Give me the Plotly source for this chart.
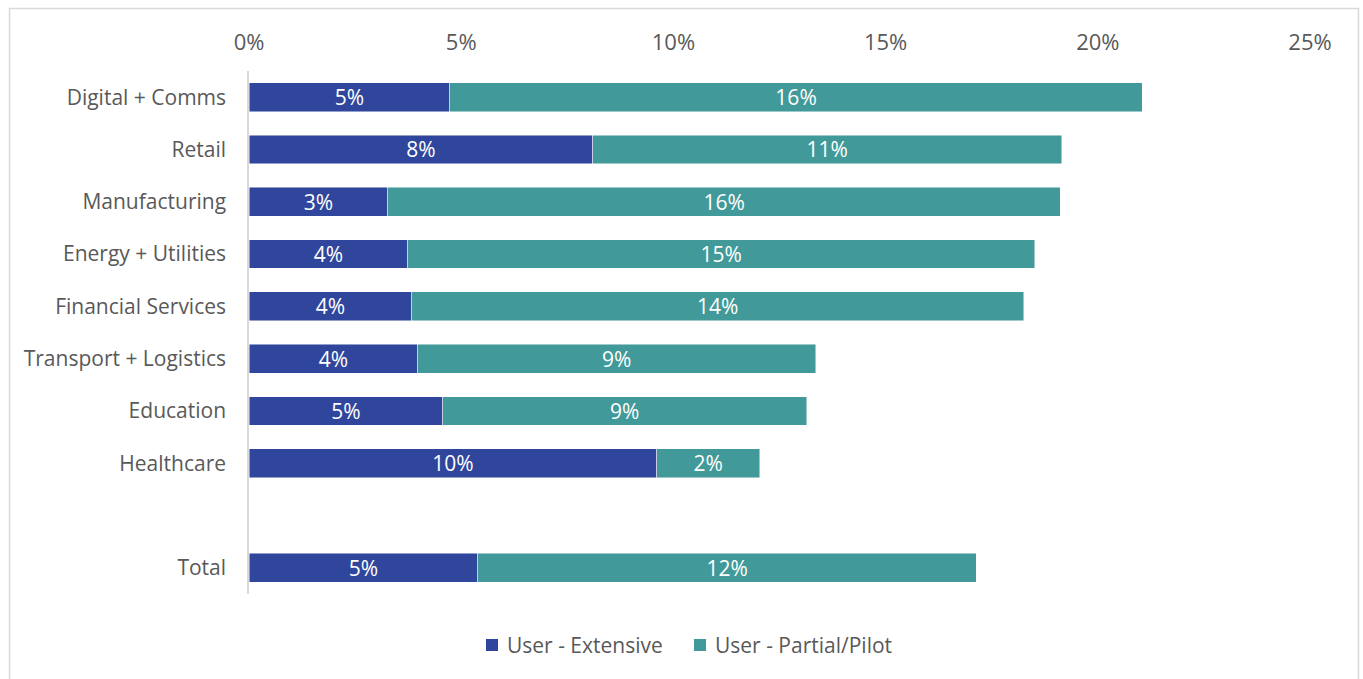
import plotly.graph_objects as go

# Adoption share by sector (fractions of respondents)
sectors = ["Digital + Comms", "Retail", "Manufacturing", "Energy + Utilities",
           "Financial Services", "Transport + Logistics", "Education", "Healthcare", "Total"]
extensive = [0.0473, 0.0810, 0.0327, 0.0374, 0.0384, 0.0398, 0.0457, 0.0961, 0.0539]
partial = [0.1632, 0.1105, 0.1585, 0.1477, 0.1441, 0.0937, 0.0857, 0.0242, 0.1175]
# Row positions: a blank slot separates the sectors from the total
rows = [0, 1, 2, 3, 4, 5, 6, 7, 9]

x_ticks = [0, 0.05, 0.10, 0.15, 0.20, 0.25]
series_names = ["User - Extensive", "User - Partial/Pilot"]

BLUE = "#30469C"
TEAL = "#419A99"
GREY = "#595959"
FONT = "Open Sans"

fig = go.Figure()
for name, vals, color in zip(series_names, [extensive, partial], [BLUE, TEAL]):
    fig.add_trace(go.Bar(
        name=name, x=vals, y=rows, orientation="h", width=0.55,
        marker=dict(color=color, line=dict(color="rgba(255,255,255,0.6)", width=0.8)),
        text=[f"{v:.0%}" for v in vals], textposition="inside",
        insidetextanchor="middle", constraintext="none",
        textfont=dict(color="white", size=21, family=FONT),
        hoverinfo="skip", showlegend=False,
    ))

# Legend drawn as coloured squares with labels beneath the plot
shapes = [dict(type="rect", xref="paper", yref="paper",
               x0=-0.2257, x1=1.0457, y0=-0.2, y1=1.1195,
               line=dict(color="#D9D9D9", width=1.5), fillcolor="rgba(0,0,0,0)",
               layer="below")]
annotations = []
plot_l, plot_w, plot_b, plot_h = 249, 1061, 594, 523
for name, color, px in zip(series_names, [BLUE, TEAL], [486, 694]):
    x0 = (px - plot_l) / plot_w
    x1 = (px + 12 - plot_l) / plot_w
    y0 = (plot_b - 651) / plot_h
    y1 = (plot_b - 639) / plot_h
    shapes.append(dict(type="rect", xref="paper", yref="paper", x0=x0, x1=x1, y0=y0, y1=y1,
                       fillcolor=color, line=dict(width=0)))
    annotations.append(dict(xref="paper", yref="paper", x=(px + 19 - plot_l) / plot_w,
                            y=(plot_b - 645) / plot_h, text=name, showarrow=False,
                            xanchor="left", yanchor="middle",
                            font=dict(size=21, color=GREY, family=FONT)))

fig.update_layout(
    barmode="stack",
    uniformtext=dict(mode=False),
    width=1363, height=679,
    margin=dict(l=249, r=53, t=71, b=85),
    paper_bgcolor="white", plot_bgcolor="white",
    font=dict(family=FONT, size=21, color=GREY),
    showlegend=False,
    xaxis=dict(side="top", range=[0, 0.25], tickvals=x_ticks, tickformat=".0%",
               showgrid=False, zeroline=False, showline=False, ticks="",
               ticklabelstandoff=16, tickfont=dict(size=22, color=GREY)),
    yaxis=dict(range=[9.5, -0.5], tickvals=rows, ticktext=sectors,
               showgrid=False, zeroline=False, showline=True,
               linecolor="#D9D9D9", linewidth=1.5, ticks="",
               ticklabelstandoff=17, tickfont=dict(size=21, color=GREY)),
    shapes=shapes,
    annotations=annotations,
)

fig.write_html("out.html")
